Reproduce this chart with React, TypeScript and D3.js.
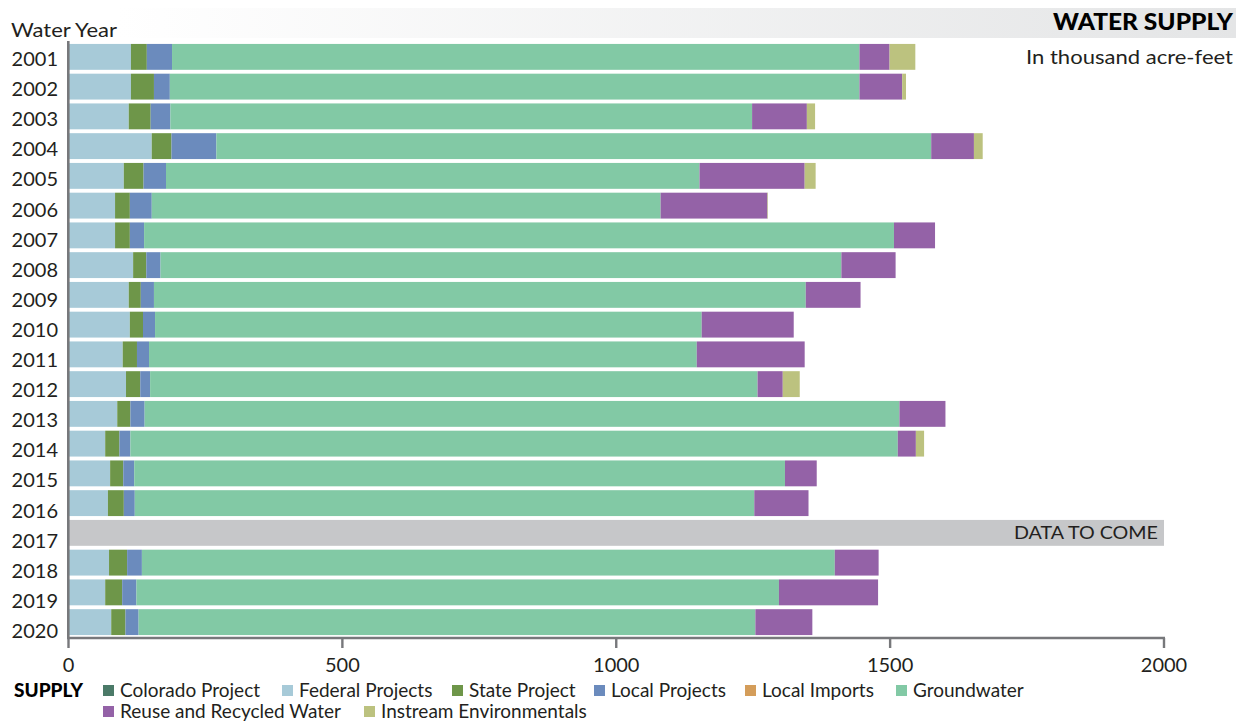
import React from "react";
import * as d3 from "d3";

const years = ["2001","2002","2003","2004","2005","2006","2007","2008","2009","2010","2011","2012","2013","2014","2015","2016","2017","2018","2019","2020"];
const pendingYear = "2017";

const coloradoProject = [0,0,0,0,0,0,0,0,0,0,0,0,0,0,0,0,null,0,0,0];
const federalProjects = [114,114,110,152,101,85,85,118,110,112,99,105,89,67,76,72,null,74,67,78];
const stateProject = [29,42,40,36,36,27,27,24,22,24,26,26,24,26,24,29,null,33,31,26];
const localProjects = [46,29,36,82,41,40,26,26,24,22,22,18,26,20,20,20,null,27,26,24];
const localImports = [0,0,0,0,0,0,0,0,0,0,0,0,0,0,0,0,null,0,0,0];
const groundwater = [1255,1259,1062,1305,974,929,1369,1243,1190,998,1000,1109,1378,1401,1188,1131,null,1265,1173,1126];
const reuseRecycled = [55,78,100,78,192,195,75,99,100,168,197,46,84,33,58,99,null,80,181,104];
const instreamEnv = [47,7,15,16,20,1,0,0,0,0,0,31,0,15,0,0,null,0,0,0];

const seriesNames = ["Colorado Project","Federal Projects","State Project","Local Projects","Local Imports","Groundwater","Reuse and Recycled Water","Instream Environmentals"];
const seriesValues = [coloradoProject, federalProjects, stateProject, localProjects, localImports, groundwater, reuseRecycled, instreamEnv];
const seriesColors = ["#4b7a68","#a7cad8","#6e9649","#6b8bbd","#d49d5a","#82c9a5","#9462a7","#bcc27f"];

const xTicks = [0, 500, 1000, 1500, 2000];

// legend layout (x of swatch, row)
const legendX = [103, 282, 452, 594, 745, 896, 103, 364];
const legendRow = [0, 0, 0, 0, 0, 0, 1, 1];

const FONT = "Lato, 'Open Sans', sans-serif";
const INK = "#231f20";
const AXIS = "#77787b";

export default function App() {
  const W = 1236, H = 721;
  const x = d3.scaleLinear().domain([0, 2000]).range([68.5, 1164]);
  const y = d3.scaleBand<string>().domain(years).range([42, 637]).paddingInner(0.13).paddingOuter(0.065);
  const yLabel = d3.scalePoint<string>().domain(years).range([66, 638]);

  const rows = years.map((yr, i) => {
    const vals = seriesValues.map((s) => s[i]);
    return { yr, vals };
  });
  const stackData = rows.filter(r => r.vals[0] !== null).map(r => {
    const o: any = { yr: r.yr };
    seriesNames.forEach((n, k) => { o[n] = r.vals[k] ?? 0; });
    return o;
  });
  const stacked = d3.stack<any>().keys(seriesNames)(stackData);

  const bw = y.bandwidth();
  const axisY = 638;

  return (
    <svg width={W} height={H} style={{ position: "absolute", left: 0, top: 0, background: "#fff" }} fontFamily={FONT}>
      <defs>
        <linearGradient id="titleGrad" x1="0" x2="1" y1="0" y2="0">
          <stop offset="0" stopColor="#ffffff" />
          <stop offset="1" stopColor="#e4e5e6" />
        </linearGradient>
      </defs>
      <rect x={118} y={8} width={W - 118} height={30} fill="url(#titleGrad)" />
      <text x={1233} y={30} textAnchor="end" fontSize={23} fontWeight={900} fill="#000" textLength={180} lengthAdjust="spacingAndGlyphs">WATER SUPPLY</text>
      <text x={1233} y={64} textAnchor="end" fontSize={20} fill={INK} textLength={207} lengthAdjust="spacingAndGlyphs">In thousand acre-feet</text>
      <text x={11} y={37} fontSize={20} fill={INK} textLength={106} lengthAdjust="spacingAndGlyphs">Water Year</text>

      {stacked.map((layer, k) => (
        <g key={layer.key} fill={seriesColors[k]}>
          {layer.map((d: any) => {
            const w = x(d[1]) - x(d[0]);
            if (w <= 0) return null;
            return <rect key={d.data.yr} x={x(d[0])} y={y(d.data.yr)} width={w} height={bw} />;
          })}
        </g>
      ))}

      <rect x={x(0)} y={y(pendingYear)} width={x(xTicks[xTicks.length - 1]) - x(0)} height={bw} fill="#c6c7c9" />
      <text x={x(xTicks[xTicks.length - 1]) - 6} y={(y(pendingYear) as number) + bw / 2 + 6.5} textAnchor="end" fontSize={18} fill={INK} textLength={144} lengthAdjust="spacingAndGlyphs">DATA TO COME</text>

      {years.map((yr) => (
        <text key={yr} x={58} y={yLabel(yr)} textAnchor="end" fontSize={20} fill={INK}>{yr}</text>
      ))}

      <line x1={68.3} x2={68.3} y1={41} y2={axisY + 1} stroke={AXIS} strokeWidth={2.6} />
      <line x1={67} x2={x(2000) + 1} y1={axisY} y2={axisY} stroke={AXIS} strokeWidth={2.4} />
      {xTicks.map((t) => (
        <g key={t}>
          <line x1={x(t)} x2={x(t)} y1={axisY} y2={axisY + 10} stroke={AXIS} strokeWidth={2.4} />
          <text x={x(t)} y={672} textAnchor="middle" fontSize={20} fill={INK}>{t}</text>
        </g>
      ))}

      <text x={14} y={697} fontSize={19} fontWeight={900} fill="#000">SUPPLY</text>
      {seriesNames.map((n, k) => {
        const ly = 697 + legendRow[k] * 21;
        return (
          <g key={n}>
            <rect x={legendX[k]} y={ly - 12} width={11} height={11} fill={seriesColors[k]} />
            <text x={legendX[k] + 17} y={ly} fontSize={19} fill={INK}>{n}</text>
          </g>
        );
      })}
    </svg>
  );
}
